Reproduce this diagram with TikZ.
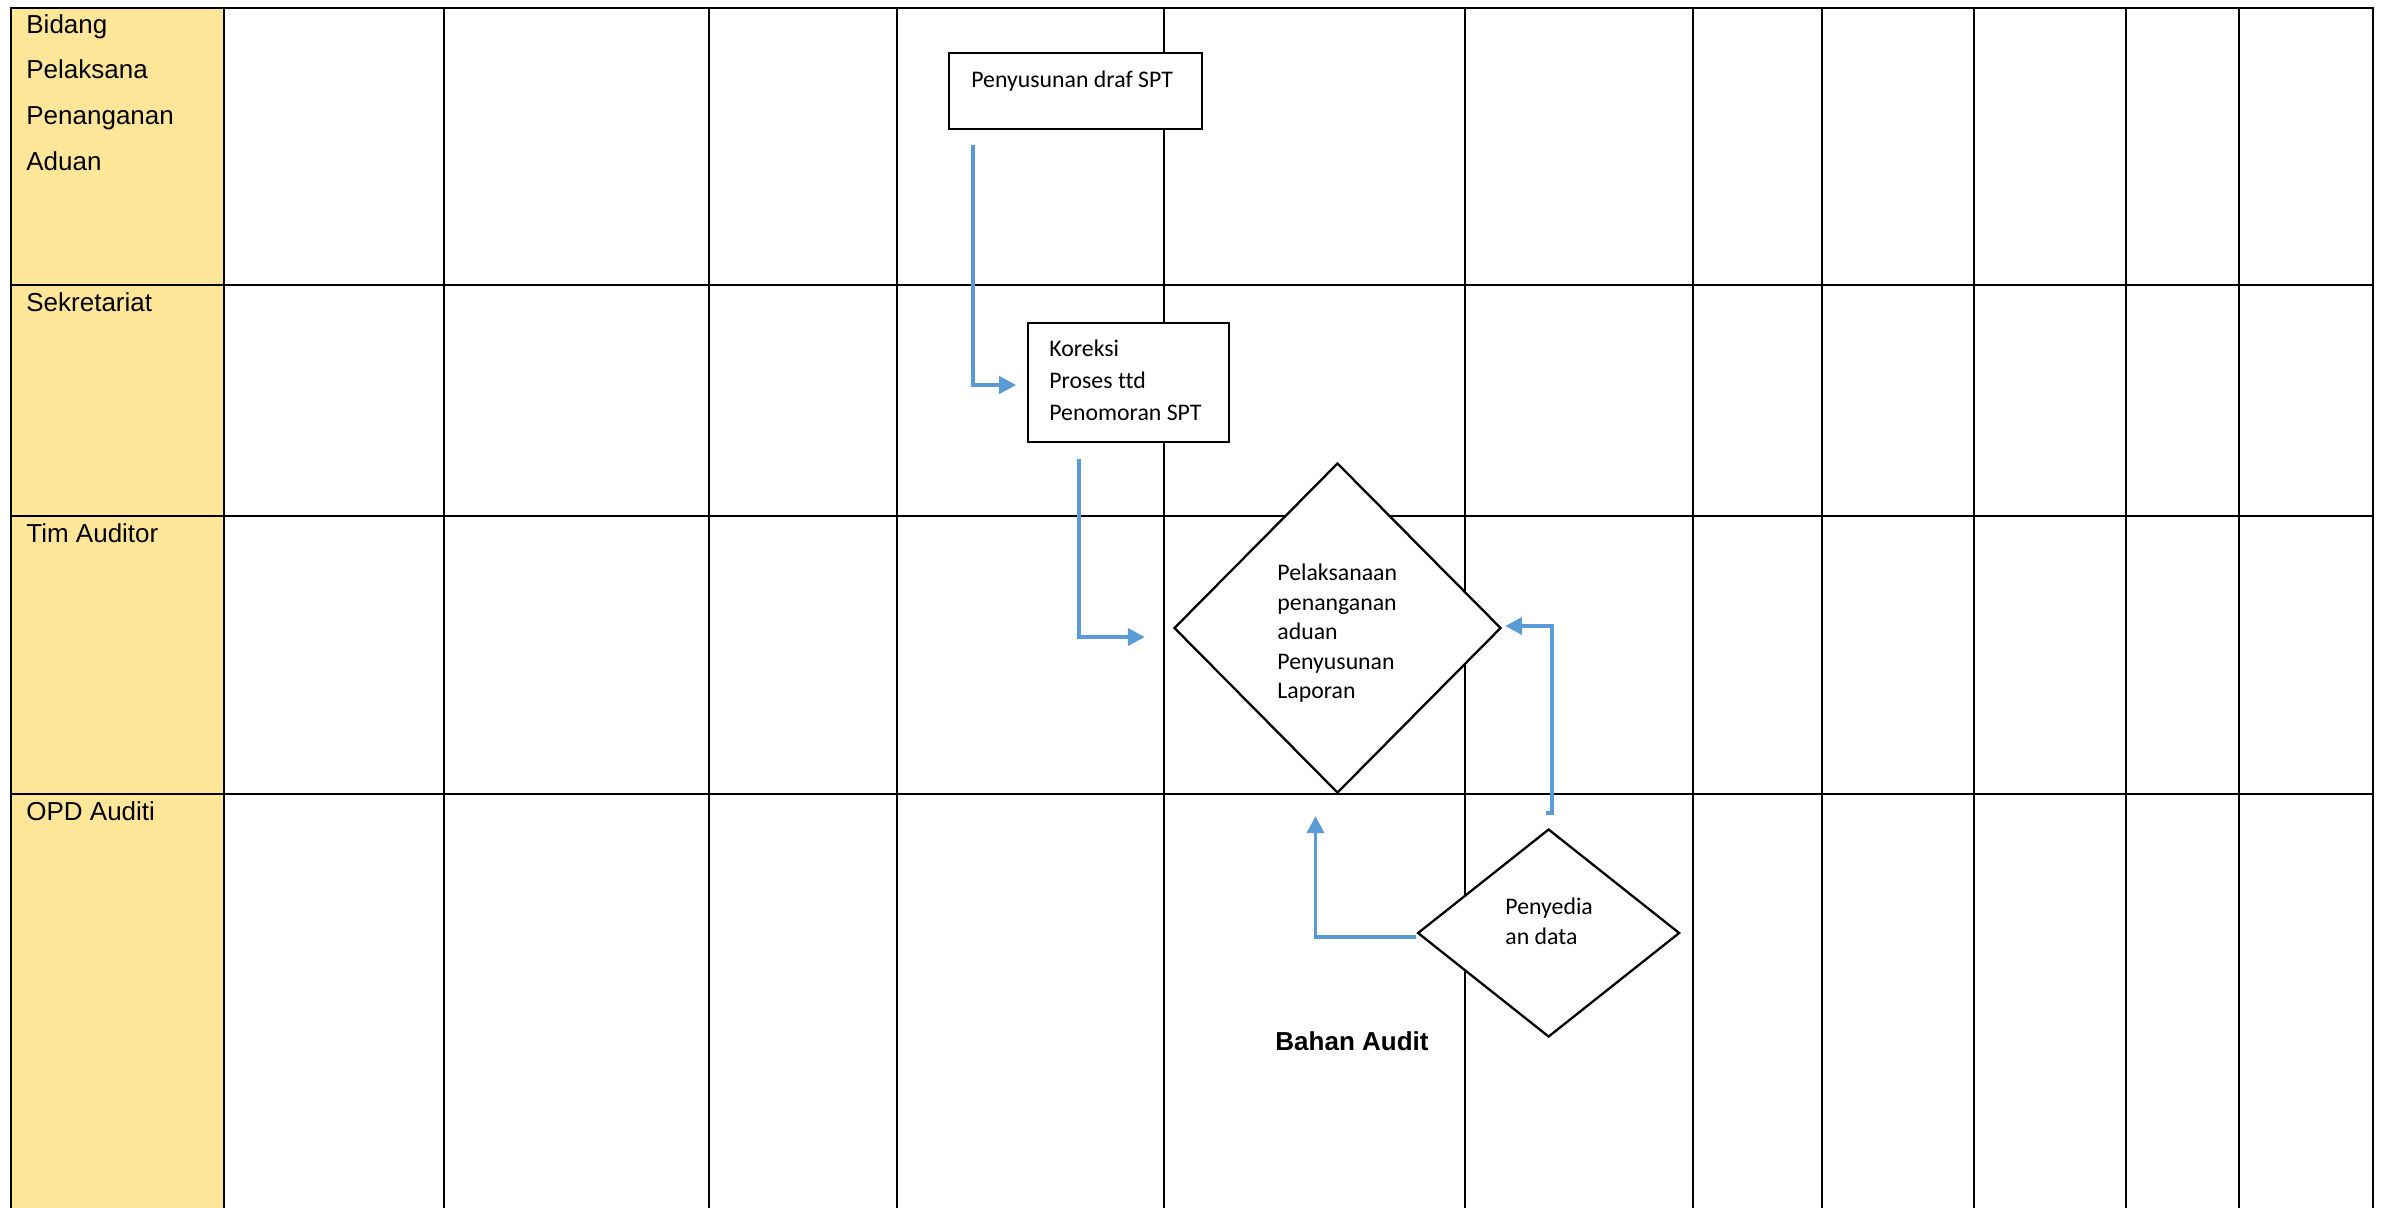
\documentclass[tikz,border=0pt]{standalone}
\usepackage{fontspec}
\setmainfont{Liberation Sans}
\newfontfamily\calibri[Ligatures=NoCommon]{Carlito}
\usetikzlibrary{shapes.geometric,arrows.meta,calc}
\definecolor{laneyellow}{HTML}{FFE699}
\definecolor{flowblue}{HTML}{5B9BD5}
\begin{document}
\begin{tikzpicture}[x=0.5pt,y=-0.5pt,
  grid/.style={line width=1.15pt, black, line cap=rect},
  lanelabel/.style={anchor=base west, inner sep=0, font=\fontsize{13pt}{22.85pt}\selectfont},
  box/.style={draw, line width=0.8pt, rectangle, fill=white, inner sep=0},
  decision/.style={draw, line width=1.15pt, diamond, fill=white, inner sep=0},
  boxtext/.style={inner sep=0, align=left, font=\calibri\fontsize{11.9pt}{16pt}\selectfont},
  flow/.style={draw=flowblue, line width=1.9pt, -{Triangle[length=8.5pt,width=8.5pt]}}
]
\useasboundingbox (0,0) rectangle (2385,1207);
\clip (0,0) rectangle (2385,1207);
% lanes and grid
\fill[laneyellow] (11,8) rectangle (224,1220);
\foreach \x in {11,224,444,709,897,1164,1465,1693,1822,1974,2126,2239,2373}
  \draw[grid] (\x,8) -- (\x,1230);
\foreach \y in {8,285,516,794}
  \draw[grid] (11,\y) -- (2373,\y);
% lane labels
\node[lanelabel, anchor=north west, align=left] (lane1) at (26,14) {Bidang\\Pelaksana\\Penanganan\\Aduan};
\node[lanelabel] (lane2) at (26,311) {Sekretariat};
\node[lanelabel] (lane3) at (26,542) {Tim Auditor};
\node[lanelabel] (lane4) at (26,820) {OPD Auditi};
% process boxes
\node[box, minimum width=126.5pt, minimum height=38pt] (box1) at (1075.5,91) {};
\node[boxtext, anchor=base west] (t1) at (971,87) {Penyusunan draf SPT};
\node[box, minimum width=100.5pt, minimum height=59.5pt] (box2) at (1128.5,382.5) {};
\node[boxtext, anchor=north west] (t2) at (1049,340) {Koreksi\\Proses ttd\\Penomoran SPT};
% decisions
\node[decision, minimum width=163.5pt, minimum height=165pt] (dia1) at (1337.5,628) {};
\node[boxtext, anchor=north west, font=\calibri\fontsize{11.9pt}{14.7pt}\selectfont] (t3) at (1277,564) {Pelaksanaan\\penanganan\\aduan\\Penyusunan\\Laporan};
\node[decision, minimum width=131pt, minimum height=104pt] (dia2) at (1548.6,933) {};
\node[boxtext, anchor=north west, font=\calibri\fontsize{11.9pt}{15pt}\selectfont] (t4) at (1505,898) {Penyedia\\an data};
% free label
\node[font=\bfseries\fontsize{13pt}{15pt}\selectfont, anchor=base, inner sep=0] (bahan) at (1352,1050) {Bahan Audit};
% connectors
\draw[flow] ($(box1.south west)+(25,15)$) |- ($(box2.west)+(-11,2.5)$);
\draw[flow] ($(box2.south west)+(52,16)$) |- ($(dia1.west)+(-28,9)$);
\draw[flow] ($(dia2.north)+(-3,-15)$) -- ++(6,0) |- ($(dia1.east)+(3,-2)$);
\draw[flow] ($(dia2.west)+(0,4)$) -| ($(dia1.south)+(-22,22)$);
\end{tikzpicture}
\end{document}
